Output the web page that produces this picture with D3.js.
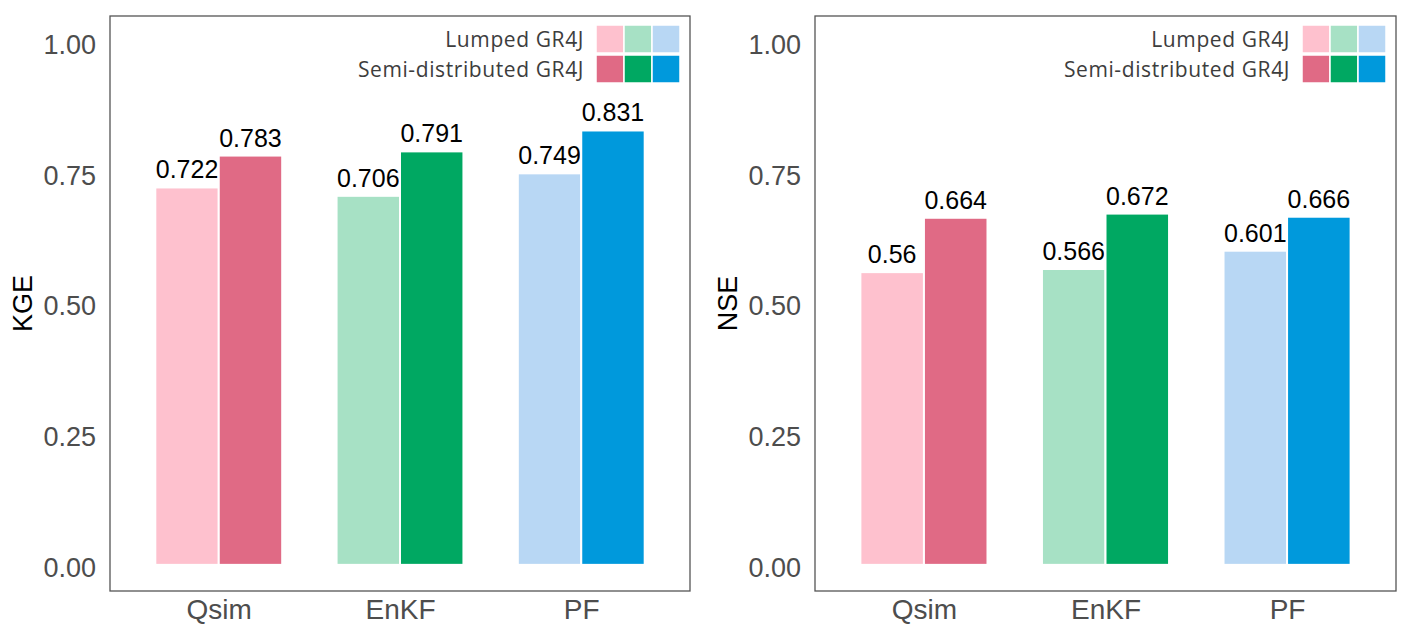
<!DOCTYPE html>
<html>
<head>
<meta charset="utf-8">
<script src="https://cdn.jsdelivr.net/npm/d3@7"></script>
<style>
  body { margin: 0; background: #fff; }
  svg { display: block; }
</style>
</head>
<body>
<svg id="chart" width="1407" height="629"></svg>
<script>
const categories = ["Qsim", "EnKF", "PF"];
const kgeLumped = [0.722, 0.706, 0.749];
const kgeSemi = [0.783, 0.791, 0.831];
const nseLumped = [0.56, 0.566, 0.601];
const nseSemi = [0.664, 0.672, 0.666];
const yTicks = [0, 0.25, 0.5, 0.75, 1.0];
const legendLabels = ["Lumped GR4J", "Semi-distributed GR4J"];
const lumpedColors = ["#FEC1CE", "#A7E1C5", "#B8D7F4"];
const semiColors = ["#E06A85", "#00A862", "#0099DC"];

const svg = d3.select("#chart");

function drawPanel(left, right, title, lumped, semi) {
  const top = 16, bottom = 591;
  const g = svg.append("g");
  const x = d3.scaleLinear().domain([0.4, 3.6]).range([left, right]);
  const y = d3.scaleLinear().domain([-0.05, 1.05]).range([bottom, top]);
  const dodge = 0.7, half = dodge / 2;

  categories.forEach((c, i) => {
    const xc = i + 1;
    const bars = [
      { v: lumped[i], x0: xc - half, color: lumpedColors[i] },
      { v: semi[i], x0: xc, color: semiColors[i] }
    ];
    bars.forEach(b => {
      g.append("rect")
        .attr("x", x(b.x0))
        .attr("y", y(b.v))
        .attr("width", x(b.x0 + half) - x(b.x0))
        .attr("height", y(0) - y(b.v))
        .attr("fill", b.color)
        .attr("stroke", "#fff")
        .attr("stroke-width", 2);
      g.append("text")
        .attr("x", x(b.x0 + half / 2))
        .attr("y", y(b.v) - 9)
        .attr("text-anchor", "middle")
        .attr("font-family", "Liberation Sans, Arial, sans-serif")
        .attr("font-size", 25)
        .attr("fill", "#000")
        .text(String(b.v));
    });
  });

  g.append("rect")
    .attr("x", left).attr("y", top)
    .attr("width", right - left).attr("height", bottom - top)
    .attr("fill", "none").attr("stroke", "#555").attr("stroke-width", 1.3);

  const yAxis = d3.axisLeft(y).tickValues(yTicks).tickFormat(d3.format(".2f")).tickSize(0).tickPadding(14);
  const ya = g.append("g").attr("transform", `translate(${left},0)`).call(yAxis);
  ya.select(".domain").remove();
  ya.selectAll("text")
    .attr("font-family", "Liberation Sans, Arial, sans-serif")
    .attr("font-size", 27).attr("fill", "#4d4d4d").attr("dy", "0.42em");

  const xAxis = d3.axisBottom(x).tickValues([1, 2, 3]).tickFormat(d => categories[d - 1]).tickSize(0).tickPadding(8);
  const xa = g.append("g").attr("transform", `translate(0,${bottom})`).call(xAxis);
  xa.select(".domain").remove();
  xa.selectAll("text")
    .attr("font-family", "Liberation Sans, Arial, sans-serif")
    .attr("font-size", 28).attr("fill", "#4d4d4d").attr("dy", "0.71em");

  g.append("text")
    .attr("transform", `translate(${left - 88},${(top + bottom) / 2}) rotate(-90)`)
    .attr("text-anchor", "middle")
    .attr("font-family", "Liberation Sans, Arial, sans-serif")
    .attr("font-size", 27).attr("fill", "#000")
    .attr("dy", "0.36em")
    .text(title);

  const keySize = 28;
  const keysRight = right - 10;
  const keysLeft = keysRight - 3 * keySize;
  [lumpedColors, semiColors].forEach((cols, r) => {
    const ky = 25 + r * 30;
    cols.forEach((col, k) => {
      g.append("rect")
        .attr("x", keysLeft + k * keySize).attr("y", ky)
        .attr("width", keySize).attr("height", keySize)
        .attr("fill", col).attr("stroke", "#fff").attr("stroke-width", 1.5);
    });
    g.append("text")
      .attr("x", keysLeft - 12)
      .attr("y", ky + keySize / 2)
      .attr("dy", "0.36em")
      .attr("text-anchor", "end")
      .attr("font-family", "Open Sans, Noto Sans, sans-serif")
      .attr("font-size", 21)
      .attr("letter-spacing", 0.6)
      .attr("fill", "#3d3d3d")
      .text(legendLabels[r]);
  });
}

drawPanel(110, 690, "KGE", kgeLumped, kgeSemi);
drawPanel(815, 1396, "NSE", nseLumped, nseSemi);
</script>
</body>
</html>
